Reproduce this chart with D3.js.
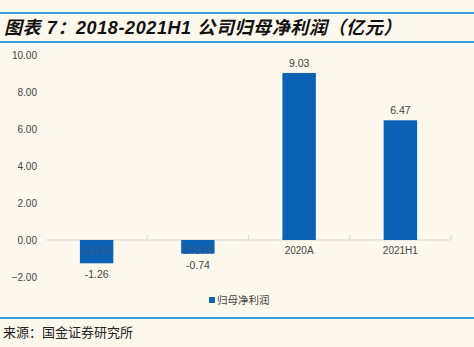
<!DOCTYPE html>
<html><head><meta charset="utf-8">
<script src="https://cdn.jsdelivr.net/npm/d3@7"></script>
<style>body{margin:0;background:#fdf8ee;}svg{display:block;}</style>
</head><body>
<svg id="c" width="474" height="347"></svg>
<script>
const categories = ["2018A", "2019A", "2020A", "2021H1"];
const values = [-1.26, -0.74, 9.03, 6.47];
const tickValues = [-2, 0, 2, 4, 6, 8, 10];
const seriesName = "归母净利润";
const title = "图表 7：2018-2021H1 公司归母净利润（亿元）";
const source = "来源：国金证券研究所";

const svg = d3.select("#c");
const W = 474, H = 347;
svg.append("rect").attr("width", W).attr("height", H).attr("fill", "#fdf8ee");

// header lines
svg.append("line").attr("x1", 0).attr("x2", W).attr("y1", 13).attr("y2", 13).attr("stroke", "#3a9fd6").attr("stroke-width", 2);
svg.append("line").attr("x1", 0).attr("x2", W).attr("y1", 42).attr("y2", 42).attr("stroke", "#3a9fd6").attr("stroke-width", 2);
svg.append("text").attr("x", 4).attr("y", 34).text(title)
  .attr("font-family", "'Liberation Sans','Noto Sans CJK SC',sans-serif").attr("font-size", 18)
  .attr("letter-spacing", 0.6)
  .attr("font-weight", "bold").attr("font-style", "italic").attr("fill", "#111");

svg.append("line").attr("x1", 0).attr("x2", W).attr("y1", 318).attr("y2", 318).attr("stroke", "#3a9fd6").attr("stroke-width", 2);
svg.append("text").attr("x", 3).attr("y", 337).text(source)
  .attr("font-family", "'Noto Sans CJK SC',sans-serif").attr("font-size", 13).attr("fill", "#222");

const y = d3.scaleLinear().domain([-2, 10]).range([277, 55]);
const x = d3.scaleBand().domain(categories).range([46, 451]).paddingInner(0.67).paddingOuter(0.335);

// y axis labels
const yAxis = d3.axisLeft(y).tickValues(tickValues).tickFormat(d3.format(".2f")).tickSize(0).tickPadding(0);
const ga = svg.append("g").attr("transform", "translate(37,0)").call(yAxis);
ga.select(".domain").remove();
ga.selectAll("text").attr("font-family", "'Liberation Sans',Arial,sans-serif").attr("font-size", 10).attr("fill", "#444");

// zero line with category ticks
const xOuter = d3.scaleBand().domain(categories).range([46, 451]);
const gx = svg.append("g").attr("transform", `translate(0,${y(0)})`)
  .call(d3.axisBottom(xOuter).tickSize(0).tickFormat(""));
gx.select(".domain").attr("stroke", "#d9d9d9").attr("d", `M46,0H451`);
svg.selectAll(".sep").data(categories.slice(1).concat(["end"])).enter().append("line")
  .attr("x1", (d, i) => 46 + (i + 1) * xOuter.bandwidth()).attr("x2", (d, i) => 46 + (i + 1) * xOuter.bandwidth())
  .attr("y1", y(0)).attr("y2", y(0) - 5).attr("stroke", "#d9d9d9");

// bars
svg.selectAll(".bar").data(values).enter().append("rect")
  .attr("x", (d, i) => x(categories[i]))
  .attr("width", x.bandwidth())
  .attr("y", d => y(Math.max(0, d)))
  .attr("height", d => Math.abs(y(d) - y(0)))
  .attr("fill", "#0a62b4");

// category labels (overlapping negative bars)
svg.selectAll(".cat").data(categories).enter().append("text")
  .attr("x", d => x(d) + x.bandwidth() / 2).attr("y", y(0) + 14)
  .attr("text-anchor", "middle").text(d => d)
  .attr("font-family", "'Liberation Sans',Arial,sans-serif").attr("font-size", 10)
  .attr("fill", (d, i) => values[i] < 0 ? "#34598a" : "#444");

// value labels
svg.selectAll(".val").data(values).enter().append("text")
  .attr("x", (d, i) => x(categories[i]) + x.bandwidth() / 2)
  .attr("y", d => d >= 0 ? y(d) - 6 : y(d) + 15)
  .attr("text-anchor", "middle").text(d => d.toFixed(2))
  .attr("font-family", "'Liberation Sans',Arial,sans-serif").attr("font-size", 10.5).attr("fill", "#444");

// legend
svg.append("rect").attr("x", 209).attr("y", 297).attr("width", 6).attr("height", 6).attr("fill", "#0a62b4");
svg.append("text").attr("x", 217).attr("y", 304).text(seriesName)
  .attr("font-family", "'Noto Sans CJK SC',sans-serif").attr("font-size", 10.5).attr("fill", "#444");
</script>
</body></html>
